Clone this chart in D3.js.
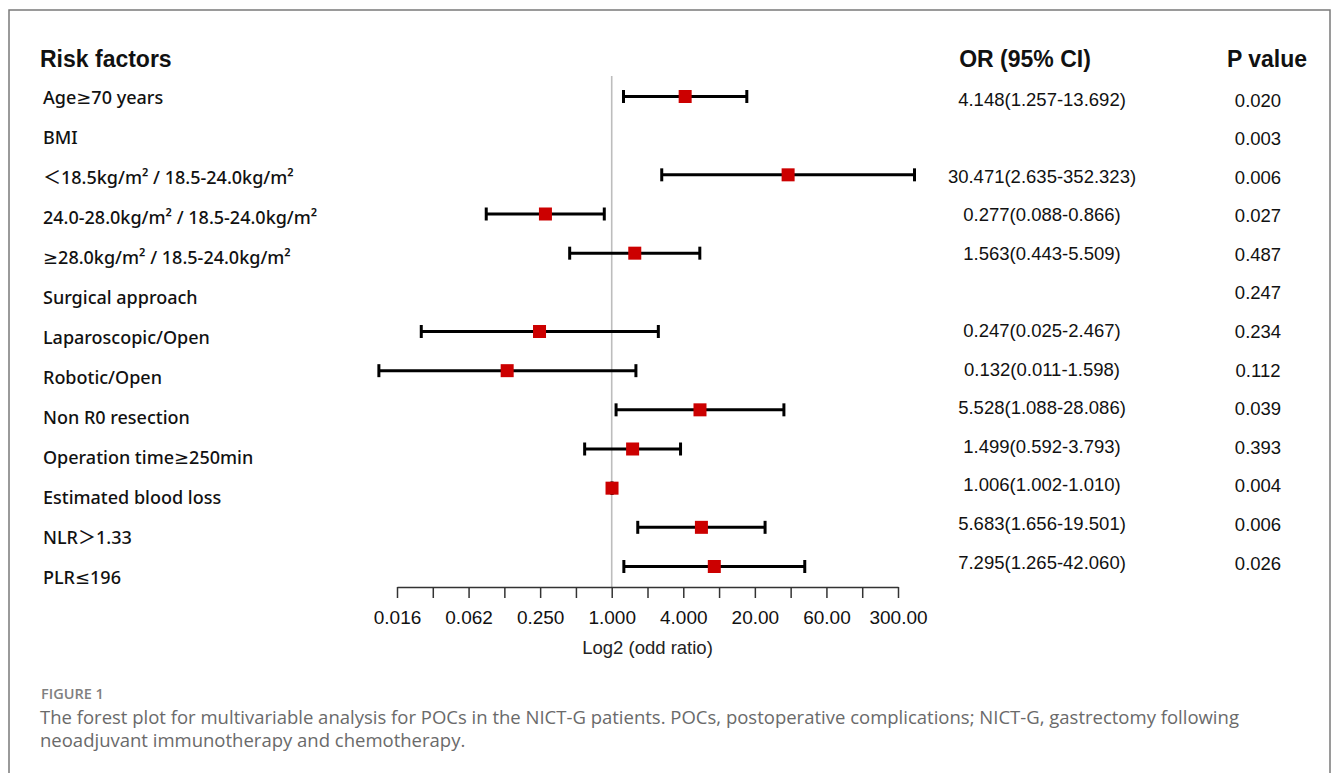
<!DOCTYPE html>
<html>
<head>
<meta charset="utf-8">
<script src="https://cdn.jsdelivr.net/npm/d3@7/dist/d3.min.js"></script>
<style>
  html, body { margin: 0; padding: 0; background: #fff; }
  svg { display: block; }
</style>
</head>
<body>
<svg id="chart" width="1333" height="773"></svg>
<script>
// Multivariable logistic regression results (odds ratios with 95% CI)
const factors = [
  "Age≥70 years",
  "BMI",
  "＜18.5kg/m² / 18.5-24.0kg/m²",
  "24.0-28.0kg/m² / 18.5-24.0kg/m²",
  "≥28.0kg/m² / 18.5-24.0kg/m²",
  "Surgical approach",
  "Laparoscopic/Open",
  "Robotic/Open",
  "Non R0 resection",
  "Operation time≥250min",
  "Estimated blood loss",
  "NLR＞1.33",
  "PLR≤196"
];
const oddsRatio = [4.148, null, 30.471, 0.277, 1.563, null, 0.247, 0.132, 5.528, 1.499, 1.006, 5.683, 7.295];
const ciLower   = [1.257, null, 2.635, 0.088, 0.443, null, 0.025, 0.011, 1.088, 0.592, 1.002, 1.656, 1.265];
const ciUpper   = [13.692, null, 352.323, 0.866, 5.509, null, 2.467, 1.598, 28.086, 3.793, 1.010, 19.501, 42.060];
const pValues   = ["0.020", "0.003", "0.006", "0.027", "0.487", "0.247", "0.234", "0.112", "0.039", "0.393", "0.004", "0.006", "0.026"];

// Axis ticks every power of two, labelled on every other tick
const tickExponents = [-6, -5, -4, -3, -2, -1, 0, 1, 2, 3, 4, 5, 6, 7, 8];
const tickLabels = ["0.016", "", "0.062", "", "0.250", "", "1.000", "", "4.000", "", "20.00", "", "60.00", "", "300.00"];

const headers = { factor: "Risk factors", or: "OR (95% CI)", p: "P value" };
const axisTitle = "Log2 (odd ratio)";
const captionHead = "FIGURE 1";
const captionLines = [
  "The forest plot for multivariable analysis for POCs in the NICT-G patients. POCs, postoperative complications; NICT-G, gastrectomy following",
  "neoadjuvant immunotherapy and chemotherapy."
];

const svg = d3.select("#chart");
const n = factors.length;
const fmt = d3.format(".3f");

// Scales
const x = d3.scaleLog().base(2)
  .domain([Math.pow(2, -6), Math.pow(2, 8)])
  .range([397, 898]);
const yMark  = d3.scaleLinear().domain([0, n - 1]).range([96.5, 566.5]);
const yLabel = d3.scaleLinear().domain([0, n - 1]).range([103.5, 583.5]);
const yOR    = d3.scaleLinear().domain([0, n - 1]).range([105.5, 568.5]);
const yP     = d3.scaleLinear().domain([0, n - 1]).range([106.5, 569.5]);

// Frame
svg.append("path")
  .attr("d", "M9,773 V10 H1330 V773")
  .attr("fill", "none")
  .attr("stroke", "#7a7a7a")
  .attr("stroke-width", 1.5);

// Column headers
const headFont = "'Liberation Sans', Arial, sans-serif";
svg.append("text").attr("x", 40).attr("y", 67)
  .attr("font-family", headFont).attr("font-weight", "bold").attr("font-size", 23)
  .attr("fill", "#111").text(headers.factor);
svg.append("text").attr("x", 1025).attr("y", 67).attr("text-anchor", "middle")
  .attr("font-family", headFont).attr("font-weight", "bold").attr("font-size", 23)
  .attr("fill", "#111").text(headers.or);
svg.append("text").attr("x", 1267).attr("y", 67).attr("text-anchor", "middle")
  .attr("font-family", headFont).attr("font-weight", "bold").attr("font-size", 23)
  .attr("fill", "#111").text(headers.p);

// Row labels
svg.append("g")
  .selectAll("text")
  .data(factors)
  .join("text")
  .attr("x", 43)
  .attr("y", (d, i) => yLabel(i))
  .attr("font-family", "'Noto Sans', 'DejaVu Sans', 'Noto Sans CJK SC', sans-serif")
  .attr("font-weight", 500)
  .attr("font-size", 18)
  .attr("fill", "#111")
  .text(d => d);

// Reference line at OR = 1
svg.append("line")
  .attr("x1", x(1)).attr("x2", x(1))
  .attr("y1", 76).attr("y2", 587)
  .attr("stroke", "#bdbdbd").attr("stroke-width", 1.6);

// Confidence intervals and point estimates
const rows = factors.map((f, i) => ({ i, or: oddsRatio[i], lo: ciLower[i], hi: ciUpper[i] }))
  .filter(d => d.or !== null);

const marks = svg.append("g");
marks.selectAll("line.ci")
  .data(rows).join("line").attr("class", "ci")
  .attr("x1", d => x(d.lo)).attr("x2", d => x(d.hi))
  .attr("y1", d => yMark(d.i)).attr("y2", d => yMark(d.i))
  .attr("stroke", "#000").attr("stroke-width", 3);
marks.selectAll("line.caplo")
  .data(rows).join("line").attr("class", "caplo")
  .attr("x1", d => x(d.lo)).attr("x2", d => x(d.lo))
  .attr("y1", d => yMark(d.i) - 6.5).attr("y2", d => yMark(d.i) + 6.5)
  .attr("stroke", "#000").attr("stroke-width", 3);
marks.selectAll("line.caphi")
  .data(rows).join("line").attr("class", "caphi")
  .attr("x1", d => x(d.hi)).attr("x2", d => x(d.hi))
  .attr("y1", d => yMark(d.i) - 6.5).attr("y2", d => yMark(d.i) + 6.5)
  .attr("stroke", "#000").attr("stroke-width", 3);
marks.selectAll("rect")
  .data(rows).join("rect")
  .attr("x", d => x(d.or) - 6.5).attr("y", d => yMark(d.i) - 6.5)
  .attr("width", 13).attr("height", 13)
  .attr("fill", "#cc0000");

// OR (95% CI) column
svg.append("g")
  .selectAll("text")
  .data(rows)
  .join("text")
  .attr("x", 1042)
  .attr("y", d => yOR(d.i))
  .attr("text-anchor", "middle")
  .attr("font-family", headFont)
  .attr("font-size", 18.5)
  .attr("fill", "#111")
  .text(d => `${fmt(d.or)}(${fmt(d.lo)}-${fmt(d.hi)})`);

// P value column
svg.append("g")
  .selectAll("text")
  .data(pValues)
  .join("text")
  .attr("x", 1258)
  .attr("y", (d, i) => yP(i))
  .attr("text-anchor", "middle")
  .attr("font-family", headFont)
  .attr("font-size", 18.5)
  .attr("fill", "#111")
  .text(d => d);

// X axis
const axis = d3.axisBottom(x)
  .tickValues(tickExponents.map(e => Math.pow(2, e)))
  .tickFormat((d, i) => tickLabels[i])
  .tickSize(11)
  .tickSizeOuter(0)
  .tickPadding(13);
const gAxis = svg.append("g").attr("transform", "translate(0,587)").call(axis);
gAxis.select(".domain").attr("stroke", "#333").attr("stroke-width", 1.5);
gAxis.selectAll(".tick line").attr("stroke", "#333").attr("stroke-width", 1.5);
gAxis.selectAll(".tick text")
  .attr("font-family", headFont).attr("font-size", 19).attr("fill", "#111");

svg.append("text")
  .attr("x", (x.range()[0] + x.range()[1]) / 2).attr("y", 654)
  .attr("text-anchor", "middle")
  .attr("font-family", headFont).attr("font-size", 18.5).attr("fill", "#222")
  .text(axisTitle);

// Caption
svg.append("text").attr("x", 41).attr("y", 699)
  .attr("font-family", "'Open Sans', sans-serif").attr("font-weight", 600)
  .attr("font-size", 14.5).attr("fill", "#808080")
  .text(captionHead);
svg.append("g")
  .selectAll("text")
  .data(captionLines)
  .join("text")
  .attr("x", 40)
  .attr("y", (d, i) => 724 + i * 23)
  .attr("font-family", "'Open Sans', sans-serif")
  .attr("font-size", 18.5)
  .attr("fill", "#6a6a6a")
  .text(d => d);
</script>
</body>
</html>
